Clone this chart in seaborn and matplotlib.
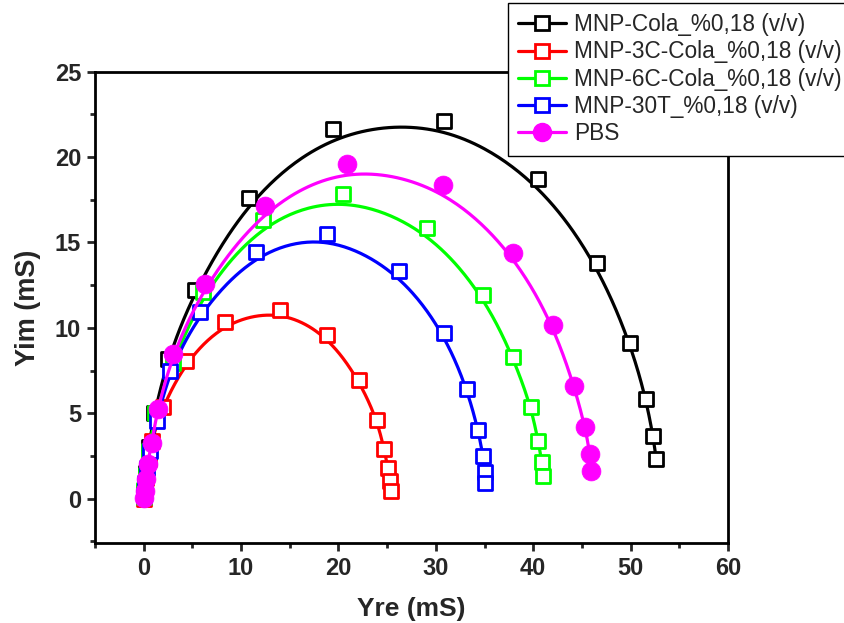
import numpy as np
import pandas as pd
import matplotlib
matplotlib.use("Agg")
import matplotlib.pyplot as plt
from matplotlib.lines import Line2D
from matplotlib.ticker import MultipleLocator
import seaborn as sns

# ---------------- data ----------------
labels = ["MNP-Cola_%0,18 (v/v)", "MNP-3C-Cola_%0,18 (v/v)",
          "MNP-6C-Cola_%0,18 (v/v)", "MNP-30T_%0,18 (v/v)", "PBS"]
colors = ["#000000", "#FF0000", "#00FF00", "#0000FF", "#FF00FF"]

cola_x = [0.0, 0.1, 0.2, 0.5, 1.1, 2.47, 5.24, 10.79, 19.42, 30.83, 40.49, 46.56, 49.95, 51.59, 52.31, 52.62]
cola_y = [0.2, 0.7, 1.5, 3.0, 5.0, 8.2, 12.24, 17.63, 21.62, 22.14, 18.69, 13.77, 9.14, 5.86, 3.69, 2.34]

c3_x = [0.0, 0.05, 0.2, 0.5, 0.82, 1.95, 4.32, 8.32, 13.98, 18.81, 22.10, 23.95, 24.67, 25.08, 25.28, 25.39]
c3_y = [0.0, 0.4, 1.2, 2.3, 3.4, 5.39, 8.03, 10.37, 11.07, 9.61, 6.97, 4.63, 2.93, 1.82, 1.05, 0.47]

c6_x = [0.0, 0.05, 0.2, 0.5, 1.2, 2.98, 6.06, 12.23, 20.45, 29.09, 34.84, 37.92, 39.77, 40.49, 40.9, 41.01]
c6_y = [0.1, 0.5, 1.4, 2.8, 5.0, 7.97, 12.07, 16.29, 17.81, 15.82, 11.95, 8.32, 5.39, 3.4, 2.17, 1.35]

t30_x = [0.0, 0.1, 0.3, 0.62, 1.34, 2.67, 5.76, 11.51, 18.81, 26.21, 30.83, 33.2, 34.33, 34.84, 35.05, 35.05]
t30_y = [0.2, 0.9, 1.8, 2.81, 4.57, 7.5, 10.95, 14.47, 15.52, 13.30, 9.72, 6.44, 4.04, 2.52, 1.58, 0.94]

pbs_x = [0.0, 0.1, 0.2, 0.41, 0.82, 1.44, 2.98, 6.27, 12.44, 20.86, 30.73, 37.92, 42.03, 44.19, 45.32, 45.84, 45.94]
pbs_y = [0.06, 0.47, 1.17, 2.05, 3.28, 5.27, 8.49, 12.54, 17.11, 19.57, 18.34, 14.41, 10.19, 6.62, 4.22, 2.64, 1.64]

series_x = [cola_x, c3_x, c6_x, t30_x, pbs_x]
series_y = [cola_y, c3_y, c6_y, t30_y, pbs_y]
markers = ["s", "s", "s", "s", "o"]

x_ticks = [0, 10, 20, 30, 40, 50, 60]
y_ticks = [0, 5, 10, 15, 20, 25]


def bspline_curve(xs, ys, k=3, num=500):
    """Clamped uniform cubic B-spline using the data points as control points."""
    P = np.c_[np.asarray(xs, float), np.asarray(ys, float)]
    n = len(P)
    t = np.r_[np.zeros(k), np.arange(n - k + 1), np.full(k, n - k)].astype(float)
    u = np.linspace(0, n - k, num)
    m = len(t) - 1
    N = np.zeros((num, m))
    for i in range(m):
        N[:, i] = ((t[i] <= u) & (u < t[i + 1])).astype(float)
    N[u >= t[-1], n - 1] = 1.0
    for d in range(1, k + 1):
        for i in range(m - d):
            den1 = t[i + d] - t[i]
            den2 = t[i + d + 1] - t[i + 1]
            left = (u - t[i]) / den1 if den1 > 0 else 0.0
            right = (t[i + d + 1] - u) / den2 if den2 > 0 else 0.0
            N[:, i] = left * N[:, i] + right * N[:, i + 1]
    C = N[:, :n] @ P
    return C[:, 0], C[:, 1]


# ---------------- figure ----------------
sns.set_theme(style="ticks")
plt.rcParams["font.family"] = ["Liberation Sans", "DejaVu Sans"]

fig = plt.figure(figsize=(8.44, 6.23), dpi=100)
ax = fig.add_axes([95 / 844, 1 - 543 / 623, (728 - 95) / 844, (543 - 71.7) / 623])

for i in range(len(labels)):
    cx_, cy_ = bspline_curve(series_x[i], series_y[i])
    cdf = pd.DataFrame({"x": cx_, "y": cy_})
    sns.lineplot(data=cdf, x="x", y="y", sort=False, estimator=None,
                 color=colors[i], lw=2.3, ax=ax, zorder=2 + i * 2, legend=False)
    pdf = pd.DataFrame({"x": series_x[i], "y": series_y[i]})
    if markers[i] == "s":
        sns.scatterplot(data=pdf, x="x", y="y", marker="s", s=95,
                        facecolor="white", edgecolor=colors[i], linewidth=2.0,
                        ax=ax, zorder=3 + i * 2, legend=False)
    else:
        sns.scatterplot(data=pdf, x="x", y="y", marker="o", s=185,
                        color=colors[i], edgecolor=colors[i], linewidth=0.5,
                        ax=ax, zorder=3 + i * 2, legend=False)

ax.set_xlim(-5, 60)
ax.set_ylim(-2.6, 25)
ax.set_xticks(x_ticks)
ax.set_yticks(y_ticks)
ax.xaxis.set_minor_locator(MultipleLocator(5))
ax.yaxis.set_minor_locator(MultipleLocator(2.5))
ax.tick_params(which="major", direction="out", length=6, width=2,
               labelsize=17, pad=4, top=False, right=False)
ax.tick_params(which="minor", direction="out", length=3.5, width=2,
               top=False, right=False)
for lab in ax.get_xticklabels() + ax.get_yticklabels():
    lab.set_fontweight("bold")
for sp in ax.spines.values():
    sp.set_visible(True)
    sp.set_linewidth(2)
    sp.set_color("black")

ax.set_xlabel("Yre (mS)", fontsize=19, fontweight="bold", labelpad=12)
ax.set_ylabel("Yim (mS)", fontsize=19.5, fontweight="bold", labelpad=10)

handles = []
for i in range(len(labels)):
    if markers[i] == "s":
        h = Line2D([0], [0], color=colors[i], lw=2.3, marker="s", markersize=9.5,
                   markerfacecolor="white", markeredgecolor=colors[i], markeredgewidth=2)
    else:
        h = Line2D([0], [0], color=colors[i], lw=2.3, marker="o", markersize=13,
                   markerfacecolor=colors[i], markeredgecolor=colors[i])
    handles.append(h)

leg = fig.legend(handles, labels, loc="upper left",
                 bbox_to_anchor=(508 / 844, 1 - 3 / 623), bbox_transform=fig.transFigure,
                 fontsize=16.3, frameon=True, fancybox=False, shadow=False,
                 framealpha=1, edgecolor="black", borderpad=0.45,
                 labelspacing=0.19, handlelength=2.1, handletextpad=0.35,
                 borderaxespad=0)
leg.get_frame().set_linewidth(1.0)
leg.set_zorder(20)

fig.savefig("out.png", dpi=100)
